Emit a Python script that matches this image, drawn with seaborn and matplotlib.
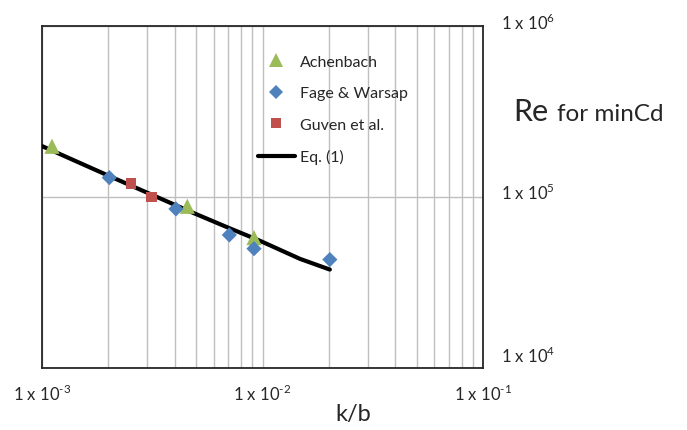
import numpy as np
import pandas as pd
import matplotlib
matplotlib.use('Agg')
import matplotlib.pyplot as plt
import matplotlib.transforms as mtransforms
from matplotlib.lines import Line2D
import seaborn as sns

# data (k/b, Re for min Cd)
ach_kb = [1.11e-3, 4.56e-3, 9.15e-3]
ach_re = [1.975e5, 8.81e4, 5.78e4]

fage_kb = [2.02e-3, 4.05e-3, 7.07e-3, 9.15e-3, 2.02e-2]
fage_re = [1.295e5, 8.5e4, 5.99e4, 4.98e4, 4.30e4]

guven_kb = [2.53e-3, 3.15e-3]
guven_re = [1.194e5, 9.99e4]

eq_kb = [1.0e-3, 2.0e-3, 4.7e-3, 7.1e-3, 9.7e-3, 1.48e-2, 2.02e-2]
eq_re = [1.98e5, 1.33e5, 8.2e4, 6.55e4, 5.55e4, 4.34e4, 3.76e4]

x_ticks = [1e-3, 1e-2, 1e-1]
x_labels = [r'1 x 10$^{\text{-3}}$', r'1 x 10$^{\text{-2}}$', r'1 x 10$^{\text{-1}}$']
y_ticks = [1e6, 1e5, 1e4]
y_labels = [r'1 x 10$^{\text{6}}$', r'1 x 10$^{\text{5}}$', r'1 x 10$^{\text{4}}$']

green = '#9BBB59'
blue = '#4F81BD'
red = '#C0504D'
gridc = '#BFBFBF'

sns.set_style('white')
plt.rcParams['font.family'] = ['Lato', 'DejaVu Sans']
plt.rcParams['mathtext.fontset'] = 'custom'
plt.rcParams['mathtext.rm'] = 'Lato'

fig = plt.figure(figsize=(6.87, 4.31), dpi=100)
ax = fig.add_axes([42/687, 1 - 369/431, 441/687, 342.3/431])

eq_df = pd.DataFrame({'kb': eq_kb, 're': eq_re})
sns.lineplot(data=eq_df, x='kb', y='re', sort=False, estimator=None,
             color='black', linewidth=3, ax=ax, zorder=3)
sns.scatterplot(x=ach_kb, y=ach_re, marker='^', s=120, color=green,
                edgecolor='none', ax=ax, zorder=4)
sns.scatterplot(x=fage_kb, y=fage_re, marker='D', s=60, color=blue,
                edgecolor='none', ax=ax, zorder=4)
sns.scatterplot(x=guven_kb, y=guven_re, marker='s', s=60, color=red,
                edgecolor='none', ax=ax, zorder=4)

ax.set_xscale('log')
ax.set_yscale('log')
ax.set_xlim(1e-3, 1e-1)
ax.set_ylim(1e4, 1e6)

# grid: vertical at every major/minor x, horizontal only at major y
ax.grid(False)
ax.xaxis.grid(True, which='both', color=gridc, linewidth=1)
ax.yaxis.grid(True, which='major', color=gridc, linewidth=1)
ax.set_axisbelow(True)

for sp in ax.spines.values():
    sp.set_color('#262626')
    sp.set_linewidth(1.3)

ax.set_xticks(x_ticks)
ax.set_xticklabels(x_labels, fontsize=12)
ax.tick_params(axis='x', which='both', length=0, pad=11)
ax.set_yticks(y_ticks)
ax.set_yticklabels([])
ax.tick_params(axis='y', which='both', length=0, labelleft=False)
ax.yaxis.set_minor_locator(matplotlib.ticker.NullLocator())
ax.set_xlabel('')
ax.set_ylabel('')

# y labels sit to the right of the box
trans = mtransforms.blended_transform_factory(ax.transAxes, ax.transData)
y_shift = [4, 5, 13]
for yv, lab, sh in zip(y_ticks, y_labels, y_shift):
    off = mtransforms.ScaledTranslation(0, sh / 100, fig.dpi_scale_trans)
    ax.text(1.04, yv, lab, transform=trans + off, fontsize=12,
            ha='left', va='center')

fig.text(353/687, 1 - 415/431, 'k/b', fontsize=17, ha='center', va='center')
fig.text(513/687, 1 - 121/431, 'Re', fontsize=22, ha='left', va='baseline')
fig.text(557/687, 1 - 121/431, 'for minCd', fontsize=17.5, ha='left', va='baseline')

handles = [
    Line2D([], [], marker='^', color=green, linestyle='none', markersize=10.5, markeredgewidth=0),
    Line2D([], [], marker='D', color=blue, linestyle='none', markersize=7.5, markeredgewidth=0),
    Line2D([], [], marker='s', color=red, linestyle='none', markersize=7.5, markeredgewidth=0),
    Line2D([], [], color='black', linewidth=3),
]
labels = ['Achenbach', 'Fage & Warsap', 'Guven et al.', 'Eq. (1)']
ax.legend(handles, labels, loc='upper left', bbox_to_anchor=(0.49, 0.915),
          frameon=False, fontsize=11.5, borderpad=0, borderaxespad=0,
          handlelength=2.3, handletextpad=0.3, labelspacing=1.08)

plt.savefig('out.png', dpi=100)
